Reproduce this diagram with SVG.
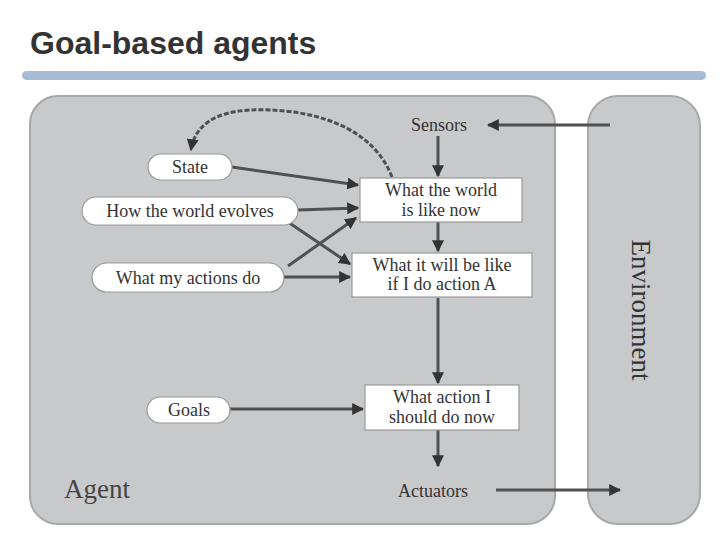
<svg xmlns="http://www.w3.org/2000/svg" width="720" height="540" viewBox="0 0 720 540">
<style>
.lbl{font-family:"Liberation Serif","Times New Roman",serif;font-size:18px;fill:#333;text-anchor:middle}
.oval{fill:#fff;stroke:#999;stroke-width:1.2}
.box{fill:#fff;stroke:#999;stroke-width:1.2}
.con{fill:none;stroke:#505050;stroke-width:3}
</style>
<defs>
<marker id="ah" viewBox="0 0 10 10" refX="9" refY="5" markerWidth="4" markerHeight="4" orient="auto" markerUnits="strokeWidth">
<path d="M0,0 L10,5 L0,10 z" fill="#333"/>
</marker>
</defs>
<rect width="720" height="540" fill="#fff"/>
<text x="30" y="54" font-family="Liberation Sans,Arial,sans-serif" font-size="32" font-weight="bold" fill="#333">Goal-based agents</text>
<rect x="22" y="71" width="684" height="9" rx="4.5" fill="#a6bcd4"/>

<g id="agent">
<rect x="30" y="96" width="525" height="428" rx="28" fill="#c8c9cb" stroke="#a8a8a8" stroke-width="2"/>
<text x="97" y="498" font-family="Liberation Serif,Times New Roman,serif" font-size="27" fill="#444" text-anchor="middle">Agent</text>
</g>
<g id="environment">
<rect x="588" y="96" width="112" height="428" rx="30" fill="#c8c9cb" stroke="#a8a8a8" stroke-width="2"/>
<text x="0" y="0" transform="translate(632,310) rotate(90)" font-family="Liberation Serif,Times New Roman,serif" font-size="27" fill="#333" text-anchor="middle">Environment</text>
</g>

<g id="connectors">
<path class="con" d="M610,125 L488,125" marker-end="url(#ah)"/>
<path class="con" d="M438,136 L438,176" marker-end="url(#ah)"/>
<path class="con" d="M438,222 L438,251" marker-end="url(#ah)"/>
<path class="con" d="M438,298 L438,383" marker-end="url(#ah)"/>
<path class="con" d="M438,430 L438,466" marker-end="url(#ah)"/>
<path class="con" d="M496,490 L620,490" marker-end="url(#ah)"/>
<path class="con" d="M232,167 L358,185" marker-end="url(#ah)"/>
<path class="con" d="M298,210 L358,208" marker-end="url(#ah)"/>
<path class="con" d="M288,222 L350,264" marker-end="url(#ah)"/>
<path class="con" d="M288,266 L356,218" marker-end="url(#ah)"/>
<path class="con" d="M284,277 L350,277" marker-end="url(#ah)"/>
<path class="con" d="M230,409 L363,409" marker-end="url(#ah)"/>
<path class="con" d="M392,177 C370,120 300,108 250,110 C215,112 195,125 191,150" stroke-width="2" stroke-dasharray="5,2" marker-end="url(#ah)"/>
</g>

<g id="sensors"><text class="lbl" x="439" y="131">Sensors</text></g>
<g id="actuators"><text class="lbl" x="433" y="497">Actuators</text></g>

<g id="state"><rect class="oval" x="148" y="154" width="84" height="26" rx="13"/><text class="lbl" x="190" y="173">State</text></g>
<g id="evolves"><rect class="oval" x="82" y="197" width="216" height="28" rx="14"/><text class="lbl" x="190" y="217">How the world evolves</text></g>
<g id="actions"><rect class="oval" x="92" y="263" width="192" height="29" rx="14.5"/><text class="lbl" x="188" y="284">What my actions do</text></g>
<g id="goals"><rect class="oval" x="147" y="397" width="83" height="26" rx="13"/><text class="lbl" x="189" y="416">Goals</text></g>

<g id="worldnow"><rect class="box" x="360" y="178" width="162" height="44"/><text class="lbl" x="441" y="196">What the world</text><text class="lbl" x="441" y="216">is like now</text></g>
<g id="willbe"><rect class="box" x="352" y="253" width="180" height="44"/><text class="lbl" x="442" y="271">What it will be like</text><text class="lbl" x="442" y="290">if I do action A</text></g>
<g id="whataction"><rect class="box" x="365" y="385" width="154" height="45"/><text class="lbl" x="442" y="403">What action I</text><text class="lbl" x="442" y="423">should do now</text></g>
</svg>
